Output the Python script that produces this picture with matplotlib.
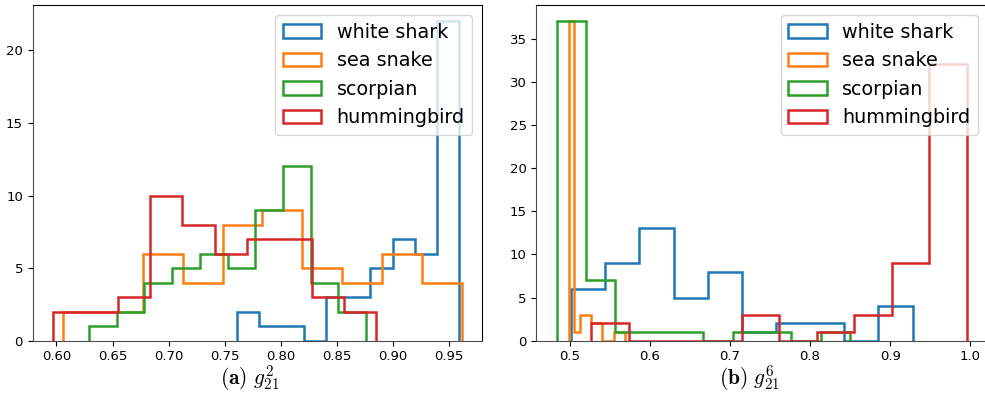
import numpy as np
import matplotlib
matplotlib.use('Agg')
import matplotlib.pyplot as plt

matplotlib.rcParams['mathtext.fontset'] = 'cm'

# animals in legend order
animals = ['white shark', 'sea snake', 'scorpian', 'hummingbird']
colors = ['tab:blue', 'tab:orange', 'tab:green', 'tab:red']

# (a) g_21^2 : range of the data and counts per bin (10 bins)
g2_lo = [0.761, 0.606, 0.629, 0.597]
g2_hi = [0.959, 0.961, 0.876, 0.885]
g2_counts = [
    [2, 1, 1, 0, 3, 3, 5, 7, 6, 22],
    [2, 2, 6, 4, 8, 9, 5, 4, 6, 4],
    [1, 2, 4, 5, 6, 5, 9, 12, 4, 2],
    [2, 2, 3, 10, 8, 6, 7, 7, 3, 2],
]

# (b) g_21^6
g6_lo = [0.502, 0.499, 0.484, 0.527]
g6_hi = [0.928, 0.569, 0.850, 0.996]
g6_counts = [
    [6, 9, 13, 5, 8, 1, 2, 2, 0, 4],
    [37, 1, 3, 3, 2, 2, 0, 0, 1, 1],
    [37, 7, 1, 1, 1, 0, 1, 1, 0, 1],
    [2, 0, 0, 0, 3, 0, 1, 3, 9, 32],
]

captions = [r'$\mathbf{(a)}\ g^{2}_{21}$', r'$\mathbf{(b)}\ g^{6}_{21}$']


def plot_panel(ax, lows, highs, counts):
    '''step histograms for each animal'''
    for name, col, lo, hi, cnt in zip(animals, colors, lows, highs, counts):
        edges = np.linspace(lo, hi, len(cnt) + 1)
        centers = (edges[:-1] + edges[1:]) / 2
        ax.hist(centers, bins=edges, weights=cnt, histtype='step',
                linewidth=1.8, color=col, label=name)
    ax.legend(loc='upper right', fontsize=13.8)
    ax.tick_params(labelsize=9.5)
    for side in ['left', 'bottom']:
        ax.spines[side].set_color('0.3')


def main():
    fig = plt.figure(figsize=(9.85, 4.15), dpi=100)
    ax1 = fig.add_axes([32.7 / 985, 74.3 / 415, 449.3 / 985, 335.4 / 415])
    ax2 = fig.add_axes([536.3 / 985, 74.3 / 415, 451.2 / 985, 335.4 / 415])
    plot_panel(ax1, g2_lo, g2_hi, g2_counts)
    plot_panel(ax2, g6_lo, g6_hi, g6_counts)
    ax1.xaxis.set_major_formatter(matplotlib.ticker.FormatStrFormatter('%.2f'))
    fig.text(250 / 985, 0.088, captions[0], ha='center', va='center', fontsize=15.5)
    fig.text(750 / 985, 0.088, captions[1], ha='center', va='center', fontsize=15.5)
    fig.savefig('out.png', dpi=100)


if __name__ == '__main__':
    main()
